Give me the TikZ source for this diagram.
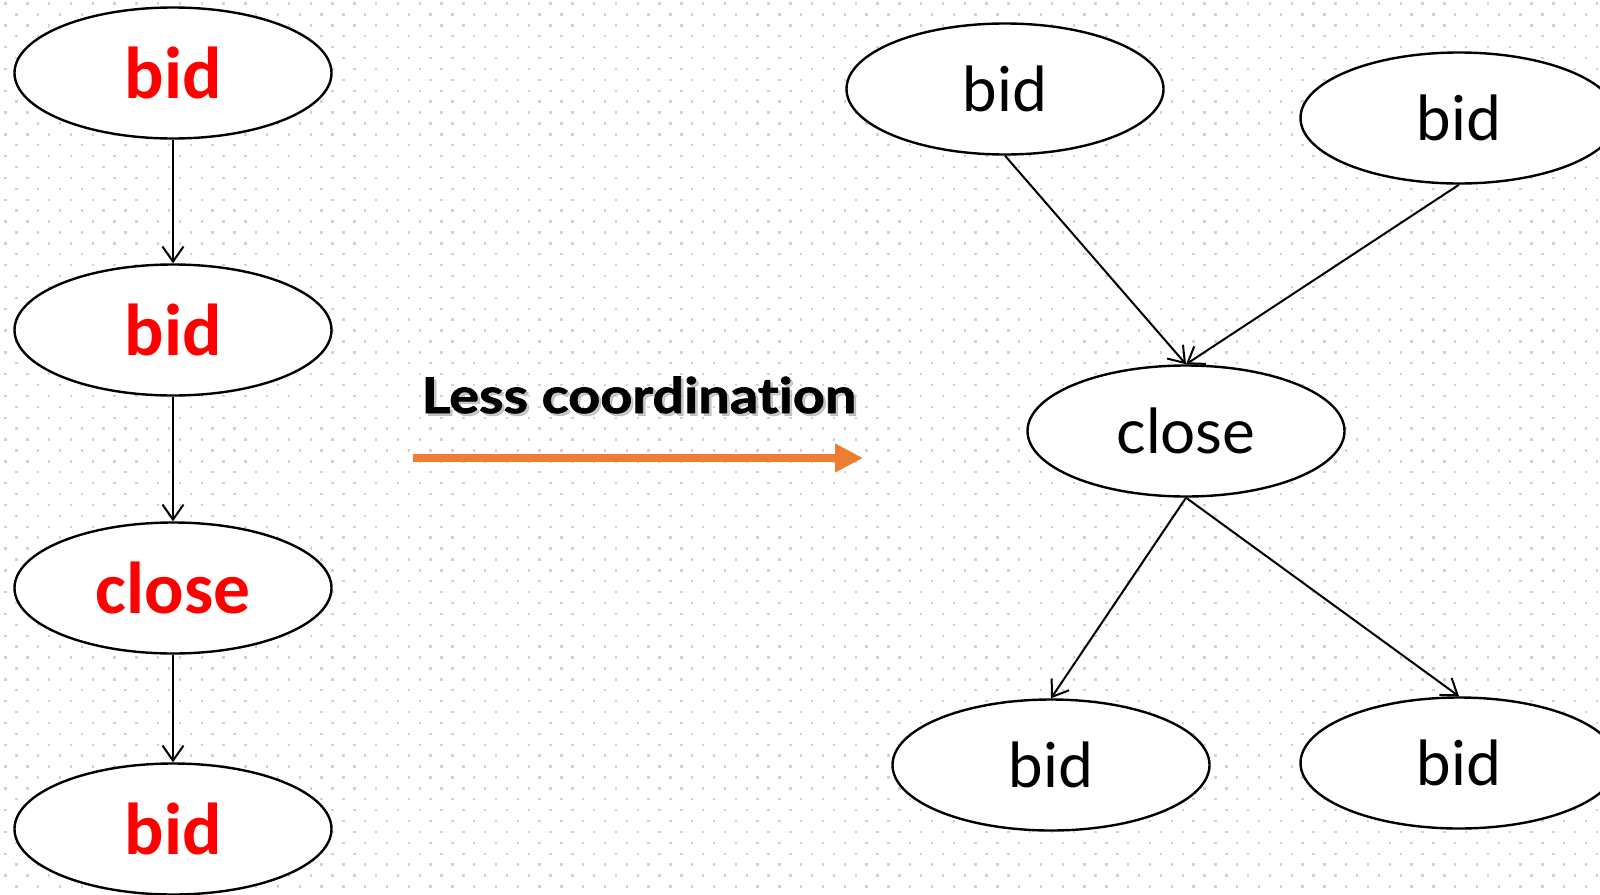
\documentclass[tikz,border=0pt]{standalone}
\usepackage{fontspec}
\setmainfont{Lato}
\newfontfamily\redface{Carlito}
\newfontfamily\labelface{Lato}[FakeStretch=1.14, FakeBold=1.5, RawFeature={-liga}]
\usetikzlibrary{shapes.geometric,arrows.meta}
\definecolor{dotgrey}{RGB}{210,210,210}
\definecolor{bidred}{RGB}{255,0,0}
\definecolor{arroworange}{RGB}{237,125,49}
\tikzset{
  state/.style={ellipse, draw=black, line width=2.4pt, fill=white,
    minimum width=317pt, minimum height=131pt, inner sep=0pt},
  redstate/.style={state, font=\redface\bfseries\fontsize{73.5}{73.5}\selectfont, text=bidred},
  blackstate/.style={state, font=\fontsize{62}{62}\selectfont, text=black},
  flow/.style={line width=2pt, -{Straight Barb[length=15pt,width=21pt,line width=2pt]}},
  caption/.style={anchor=base west, font=\labelface\bfseries\fontsize{49}{49}\selectfont},
}
\begin{document}
\begin{tikzpicture}[x=1pt,y=-1pt]
  \useasboundingbox (0,0) rectangle (1600,894);
  \fill[white] (0,0) rectangle (1600,894);
  % dotted paper: staggered rows of small grey dots
  \foreach \k in {0,...,82}{
    \pgfmathsetmacro{\yy}{3.5+10.9*\k}
    \pgfmathsetmacro{\xo}{mod(\k,2)==0 ? 4.3 : 15.2}
    \draw[dotgrey, line width=2.4pt, dash pattern=on 2.4pt off 19.4pt]
      (\xo,\yy) -- (1600,\yy);
  }

  % sequential chain
  \node[redstate] (l1) at (173,73)  {bid};
  \node[redstate] (l2) at (173,330) {bid};
  \node[redstate] (l3) at (173,588) {close};
  \node[redstate] (l4) at (173,829) {bid};
  \draw[flow] (l1.south) -- (l2.north);
  \draw[flow] (l2.south) -- (l3.north);
  \draw[flow] (l3.south) -- (l4.north);

  % transformation label with soft shadow, and arrow
  \node[caption, text=gray!70, opacity=0.6] (lblshadow) at (420.5,415.5) {Less coordination};
  \node[caption] (lbl) at (418,413) {Less coordination};
  \coordinate (ostart) at (413,458);
  \coordinate (oend) at (863,458);
  \draw[arroworange, line width=8pt,
        -{Triangle[length=28pt,width=27pt]}] (ostart) -- (oend);

  % relaxed ordering
  \node[blackstate] (r1) at (1005,89)  {bid};
  \node[blackstate] (r2) at (1459,118) {bid};
  \node[blackstate] (rc) at (1186,431) {close};
  \node[blackstate] (r3) at (1051,765) {bid};
  \node[blackstate] (r4) at (1459,763) {bid};
  \draw[flow] (r1.south) -- (rc.north);
  \draw[flow] (r2.south) -- (rc.north);
  \draw[flow] (rc.south) -- (r3.north);
  \draw[flow] (rc.south) -- (r4.north);
\end{tikzpicture}
\end{document}
